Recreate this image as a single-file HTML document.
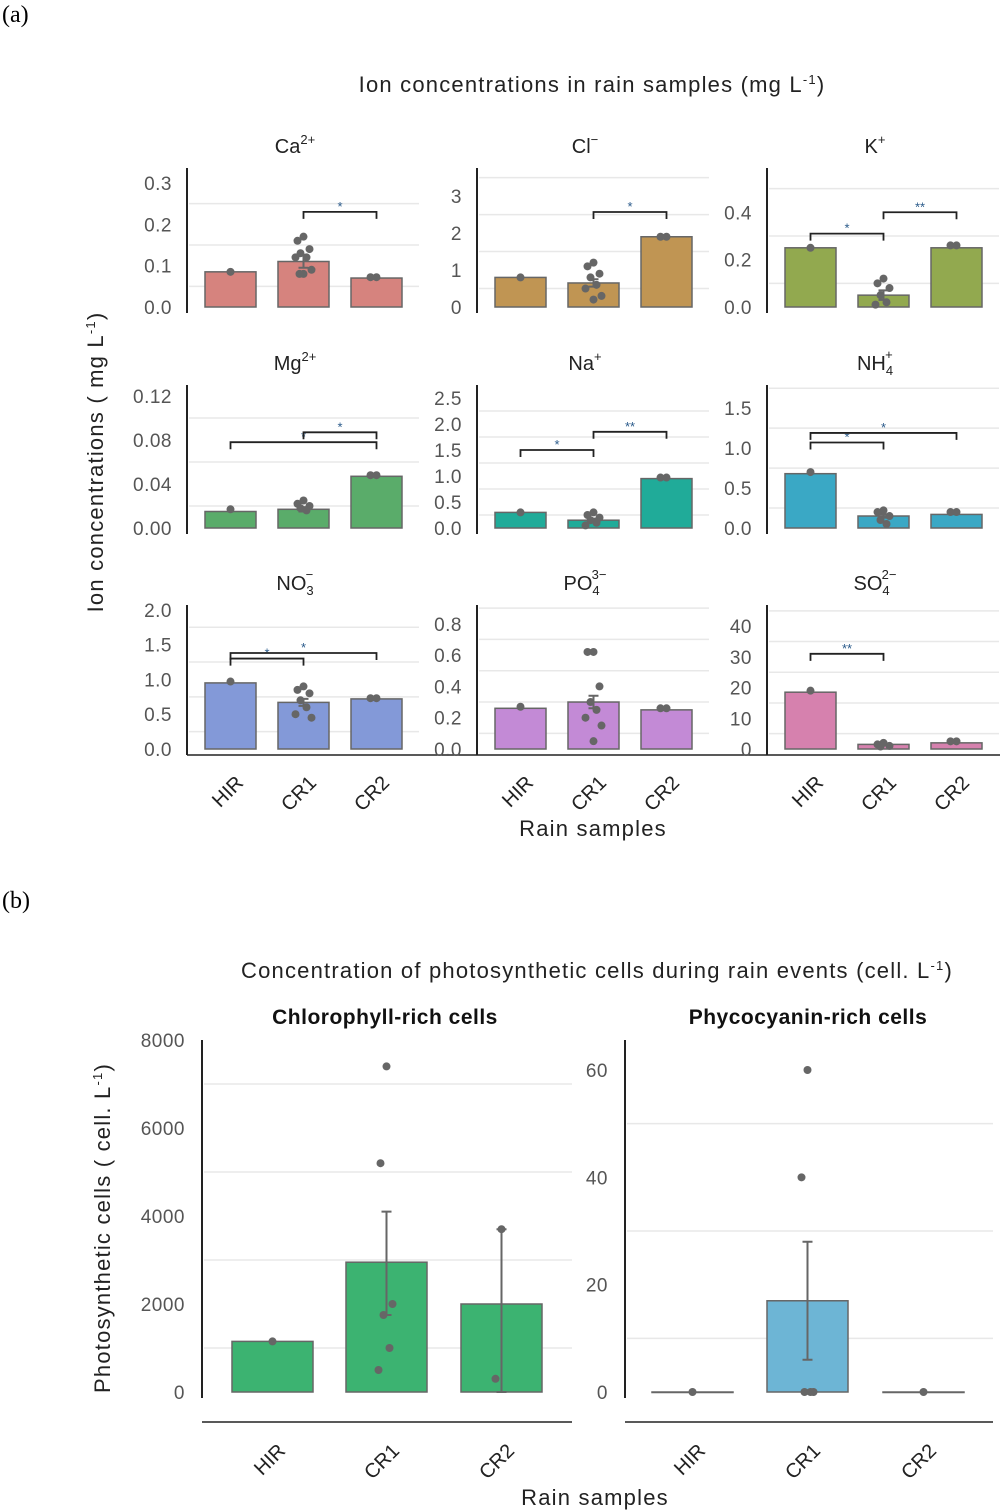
<!DOCTYPE html>
<html><head><meta charset="utf-8"><style>
body{margin:0;background:#fff;}
svg{display:block;font-family:"Liberation Sans",sans-serif;}
.tk{fill:#555;font-size:19px;letter-spacing:0.5px;}
.tt{fill:#222;font-size:20px;}
.big{font-size:22px;letter-spacing:1.2px;}
</style></head><body>
<svg id="chart" width="1004" height="1512">
<text x="2" y="22" font-family="Liberation Serif" font-size="24" fill="#000">(a)</text>
<text x="2" y="908" font-family="Liberation Serif" font-size="24" fill="#000">(b)</text>
<text x="592" y="92" text-anchor="middle" class="tt big">Ion concentrations in rain samples (mg L<tspan dy="-8" font-size="13">-1</tspan><tspan dy="8">)</tspan></text>
<text transform="translate(103,462) rotate(-90)" text-anchor="middle" class="tt big">Ion concentrations ( mg L<tspan dy="-8" font-size="13">-1</tspan><tspan dy="8">)</tspan></text>
<text x="593" y="836" text-anchor="middle" class="tt big">Rain samples</text>
<text x="597" y="978" text-anchor="middle" class="tt big">Concentration of photosynthetic cells during rain events (cell. L<tspan dy="-8" font-size="13">-1</tspan><tspan dy="8">)</tspan></text>
<text transform="translate(110,1228) rotate(-90)" text-anchor="middle" class="tt big">Photosynthetic cells ( cell. L<tspan dy="-8" font-size="13">-1</tspan><tspan dy="8">)</tspan></text>
<text x="595" y="1505" text-anchor="middle" class="tt big">Rain samples</text>
<line x1="187" y1="755" x2="1000" y2="755" stroke="#222" stroke-width="1.5"/>
<line x1="202" y1="1422" x2="572" y2="1422" stroke="#222" stroke-width="1.5"/>
<line x1="625" y1="1422" x2="993" y2="1422" stroke="#222" stroke-width="1.5"/>
</svg>
<script>
const groups = ["HIR","CR1","CR2"];
const ions = ["Ca","Cl","K","Mg","Na","NH4","NO3","PO4","SO4"];
const ionMeans = [[0.085,0.11,0.07],[0.8,0.65,1.9],[0.25,0.05,0.25],[0.015,0.017,0.047],[0.3,0.15,0.95],[0.68,0.15,0.17],[0.95,0.67,0.72],[0.26,0.3,0.25],[18.5,1.5,2.0]];
const ionErr = [[0,0.015,0],[0,0.1,0],[0,0.02,0],[0,0.002,0],[0,0.03,0],[0,0.02,0],[0,0.05,0],[0,0.04,0],[0,0.3,0]];
const ionPoints = [
 [[0.085],[0.17,0.16,0.14,0.13,0.12,0.12,0.09,0.08,0.08],[0.072,0.072]],
 [[0.8],[1.2,1.1,0.9,0.8,0.6,0.5,0.3,0.2],[1.9,1.9]],
 [[0.25],[0.12,0.1,0.08,0.05,0.02,0.01],[0.26,0.26]],
 [[0.017],[0.025,0.022,0.02,0.018,0.016],[0.048,0.048]],
 [[0.3],[0.3,0.25,0.2,0.15,0.1,0.05],[0.97,0.97]],
 [[0.7],[0.22,0.2,0.15,0.1,0.05],[0.2,0.2]],
 [[0.97],[0.9,0.85,0.8,0.7,0.6,0.5,0.45],[0.73,0.73]],
 [[0.27],[0.62,0.62,0.4,0.3,0.25,0.2,0.15,0.05],[0.26,0.26]],
 [[19],[2,1.5,1,0.8],[2.5,2.5]]];
const ionMax = [0.336,3.76,0.587,0.13,2.75,1.79,2.07,0.92,46.9];
const ionTicks = [[0,0.1,0.2,0.3],[0,1,2,3],[0,0.2,0.4],[0,0.04,0.08,0.12],[0,0.5,1,1.5,2,2.5],[0,0.5,1,1.5],[0,0.5,1,1.5,2],[0,0.2,0.4,0.6,0.8],[0,10,20,30,40]];
const ionTickLabels = [["0.0","0.1","0.2","0.3"],["0","1","2","3"],["0.0","0.2","0.4"],["0.00","0.04","0.08","0.12"],["0.0","0.5","1.0","1.5","2.0","2.5"],["0.0","0.5","1.0","1.5"],["0.0","0.5","1.0","1.5","2.0"],["0.0","0.2","0.4","0.6","0.8"],["0","10","20","30","40"]];
const ionBrackets = [[[1,2,0.23,"*"]],[[1,2,2.57,"*"]],[[0,1,0.31,"*"],[1,2,0.40,"**"]],[[0,2,0.078,"*"],[1,2,0.087,"*"]],[[0,1,1.5,"*"],[1,2,1.85,"**"]],[[0,1,1.07,"*"],[0,2,1.19,"*"]],[[0,1,1.3,"*"],[0,2,1.38,"*"]],[],[[0,1,31,"**"]]];
const ionTitles = [["Ca","2+",""],["Cl","−",""],["K","+",""],["Mg","2+",""],["Na","+",""],["NH","+","4"],["NO","−","3"],["PO","3−","4"],["SO","2−","4"]];
const ionColors = ["#d6837e","#c09553","#92a94f","#5aac6a","#20ab99","#3aa8c5","#8399d8","#c38ad6","#d681ae"];

const cellGroups = ["HIR","CR1","CR2"];
const chlMeans = [1150,2950,2000];
const chlErrLo = [1150,1750,0];
const chlErrHi = [1150,4100,3700];
const chlPoints = [[1150],[7400,5200,2000,1750,1000,500],[3700,300]];
const chlTicks = [0,2000,4000,6000,8000];
const phyMeans = [0,17,0];
const phyErrLo = [0,6,0];
const phyErrHi = [0,28,0];
const phyPoints = [[0],[60,40,0,0,0],[0]];
const phyTicks = [0,20,40,60];

const svg = document.getElementById('chart');
const NS = 'http://www.w3.org/2000/svg';
function mk(tag, attrs, parent){const e=document.createElementNS(NS,tag);for(const k in attrs)e.setAttribute(k,attrs[k]);(parent||svg).appendChild(e);return e;}
const jit = [0,-6,6,-3,3,-8,8,0,-4,4];

function panel(p, name, ax, top, zero, right, max, ticks, labels, means, errLo, errHi, points, brackets, color, barX, barW, grids, labelOff, tickSize, showX, xLabelY){
  const g = mk('g',{});
  
  
  const y = v => zero - v/max*(zero-top);
  grids.forEach(v=>{const l=mk('line',{x1:ax+2,x2:right,y1:y(v),y2:y(v),stroke:'#e8e8e8','stroke-width':1.5},g);
    
    });
  ticks.forEach((v,i)=>{const t=mk('text',{x:ax-labelOff,y:y(v)+7,'text-anchor':'end',class:'tk','font-size':tickSize},g);t.textContent=labels[i];
    
    });
  const a=mk('line',{x1:ax,x2:ax,y1:top,y2:zero+6,stroke:'#222','stroke-width':2},g);
  
  
  means.forEach((m,i)=>{
    const r=mk('rect',{x:barX[i],y:y(m),width:barW,height:Math.max(zero-y(m),0.5),fill:color,stroke:'#666','stroke-width':1.5},g);
    
    
    const cx=barX[i]+barW/2;
    if(errHi[i]>errLo[i]){
      const e=mk('path',{d:`M${cx-5},${y(errLo[i])}H${cx+5}M${cx},${y(errLo[i])}V${y(errHi[i])}M${cx-5},${y(errHi[i])}H${cx+5}`,stroke:'#666','stroke-width':2,fill:'none'},g);
      
      
    }
    points[i].forEach((v,j)=>{const c=mk('circle',{cx:cx+jit[j%jit.length],cy:y(v),r:4,fill:'#666'},g);
      
      });
    if(showX){const t=mk('text',{transform:`translate(${cx+14},${xLabelY}) rotate(-45)`,'text-anchor':'end',class:'tt','font-size':24},g);t.textContent=groups[i];
      
      }
  });
  brackets.forEach(b=>{const x1=barX[b[0]]+barW/2,x2=barX[b[1]]+barW/2,yy=y(b[2]);
    const pth=mk('path',{d:`M${x1},${yy+7}V${yy}H${x2}V${yy+7}`,stroke:'#222','stroke-width':1.8,fill:'none'},g);
    
    
    const t=mk('text',{x:(x1+x2)/2,y:yy-1,'text-anchor':'middle','font-size':13,fill:'#2a5a8a'},g);t.textContent=b[3];
    
    });
  return g;
}

const colX=[187,477,767], rowTop=[168,385,605], rowZero=[307,528,749];
ions.forEach((ion,k)=>{
  const c=k%3, r=Math.floor(k/3), ax=colX[c];
  const barX=[ax+18,ax+91,ax+164];
  const tk=ionTicks[k], step=tk[1]-tk[0];
  const grids=[]; for(let v=step/2; v<ionMax[k]; v+=step) grids.push(v);
  const zeroErr=ionMeans[k].map((m,i)=>m-ionErr[k][i]), hiErr=ionMeans[k].map((m,i)=>m+ionErr[k][i]);
  panel(k,'panel-'+ion.toLowerCase(),ax,rowTop[r],rowZero[r],ax+232,ionMax[k],tk,ionTickLabels[k],ionMeans[k],zeroErr,hiErr,ionPoints[k],ionBrackets[k],ionColors[k],barX,51,grids,15,20,r===2,784);
  const tt=ionTitles[k];
  const t=mk('text',{x:ax+108,y:rowTop[r]-15,'text-anchor':'middle',class:'tt'});
  
  
  t.innerHTML=tt[0]+(tt[2]?`<tspan dy="5" font-size="13">${tt[2]}</tspan><tspan dx="-8" dy="-16" font-size="13">${tt[1]}</tspan>`:`<tspan dy="-9" font-size="13">${tt[1]}</tspan>`);
});

panel(9,'panel-chlorophyll',202,1040,1392,572,8000,chlTicks,chlTicks.map(String),chlMeans,chlErrLo,chlErrHi,chlPoints,[],'#3cb371',[232,346,461],81,[1000,3000,5000,7000],17,20,true,1452);
panel(10,'panel-phycocyanin',625,1040,1392,993,60/(1392-1070)*(1392-1040),phyTicks,phyTicks.map(String),phyMeans,phyErrLo,phyErrHi,phyPoints,[],'#6db5d5',[652,767,883],81,[10,30,50],17,20,true,1452);
let t1=mk('text',{x:385,y:1024,'text-anchor':'middle','font-size':21,'font-weight':'bold',fill:'#111','letter-spacing':0.5});t1.textContent='Chlorophyll-rich cells';


let t2=mk('text',{x:808,y:1024,'text-anchor':'middle','font-size':21,'font-weight':'bold',fill:'#111','letter-spacing':0.5});t2.textContent='Phycocyanin-rich cells';


</script>
</body></html>
